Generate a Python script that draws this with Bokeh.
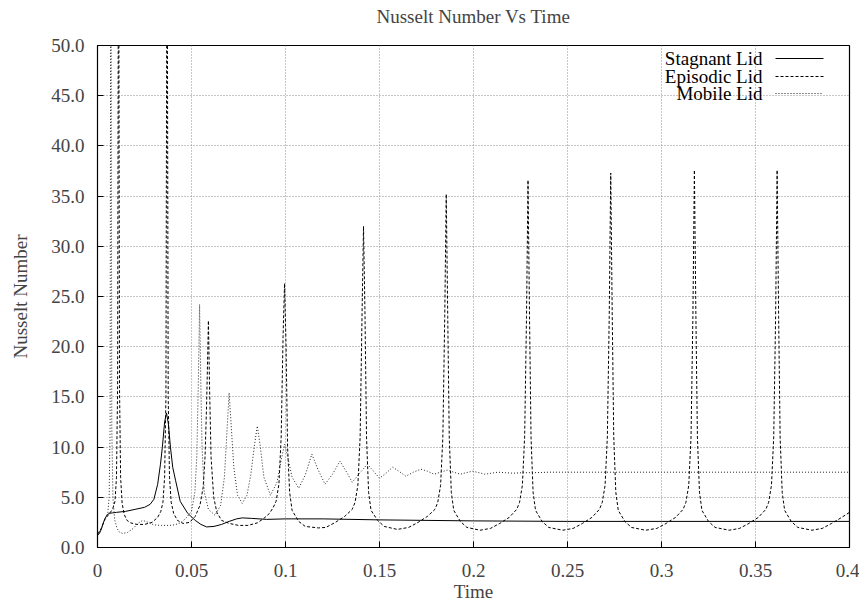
from bokeh.plotting import figure
from bokeh.models import Range1d, FixedTicker, CustomJSTickFormatter, Label, Arrow, Title
from bokeh.embed import file_html
from bokeh.resources import INLINE

# ---------------- data ----------------
chart_title = "Nusselt Number Vs Time"
x_ticks = [0.0, 0.05, 0.1, 0.15, 0.2, 0.25, 0.3, 0.35, 0.4]
y_ticks = [0, 5, 10, 15, 20, 25, 30, 35, 40, 45, 50]

series_names = ["Stagnant Lid", "Episodic Lid", "Mobile Lid"]

stagnant_t = [0.0, 0.001, 0.002, 0.003, 0.004, 0.005, 0.006, 0.008, 0.010, 0.015, 0.020, 0.025,
              0.028, 0.030, 0.032, 0.0335, 0.0345, 0.0357, 0.0367, 0.0377, 0.0388, 0.040, 0.0415,
              0.044, 0.048, 0.052, 0.055, 0.058, 0.062, 0.066, 0.070, 0.074, 0.077, 0.082, 0.09,
              0.1, 0.12, 0.15, 0.2, 0.25, 0.3, 0.35, 0.4]
stagnant_nu = [1.2, 1.4, 1.8, 2.4, 2.9, 3.2, 3.4, 3.45, 3.5, 3.6, 3.8, 4.0,
               4.3, 4.8, 6.3, 8.3, 10.0, 12.5, 13.4, 12.3, 10.0, 8.0, 6.7,
               4.6, 3.4, 2.7, 2.3, 2.05, 2.1, 2.3, 2.6, 2.85, 2.95, 2.9, 2.8,
               2.85, 2.85, 2.75, 2.65, 2.6, 2.6, 2.6, 2.6]

episodic_t = [0.0, 0.002, 0.004, 0.006, 0.008, 0.0093, 0.0101, 0.0107, 0.0112, 0.0117, 0.0123, 0.0131,
              0.0142, 0.0157, 0.0177, 0.021, 0.025, 0.029, 0.032, 0.0337, 0.0348, 0.0357, 0.0364,
              0.037, 0.0376, 0.0383, 0.0392, 0.0405, 0.0425, 0.0455, 0.049, 0.052, 0.0545, 0.0562,
              0.0572, 0.058, 0.0586, 0.059,
              0.0596, 0.0604, 0.0618, 0.0635, 0.066, 0.070, 0.075, 0.080, 0.085, 0.0885, 0.0915,
              0.0935, 0.095, 0.0965, 0.0977, 0.0987, 0.0995,
              0.1003, 0.1011, 0.1022, 0.1035, 0.107, 0.1105, 0.1175, 0.1215, 0.1265, 0.1315, 0.1355,
              0.137, 0.1385, 0.1397, 0.1407, 0.1415,
              0.1423, 0.1431, 0.1442, 0.1455, 0.149, 0.1525, 0.1595, 0.1655, 0.1705, 0.1755, 0.1795,
              0.181, 0.1825, 0.1837, 0.1847, 0.1855,
              0.1863, 0.1871, 0.1882, 0.1895, 0.193, 0.1965, 0.2035, 0.209, 0.214, 0.219, 0.223,
              0.2245, 0.226, 0.2272, 0.2282, 0.229,
              0.2298, 0.2306, 0.2317, 0.233, 0.2365, 0.24, 0.2475, 0.253, 0.258, 0.263, 0.267,
              0.2685, 0.27, 0.2712, 0.2722, 0.273,
              0.2738, 0.2746, 0.2757, 0.277, 0.2805, 0.284, 0.2915, 0.2975, 0.3025, 0.3075, 0.3115,
              0.313, 0.3145, 0.3157, 0.3167, 0.3175,
              0.3183, 0.3191, 0.3202, 0.3215, 0.325, 0.3285, 0.336, 0.3415, 0.3465, 0.3515, 0.3555,
              0.357, 0.3585, 0.3597, 0.3607, 0.3615,
              0.3623, 0.3631, 0.3642, 0.3655, 0.369, 0.3725, 0.38, 0.3855, 0.3905, 0.395, 0.4]
episodic_nu = [1.3, 1.9, 2.8, 3.3, 3.8, 4.6, 7.0, 16.0, 70.0, 16.0, 7.0, 4.4,
               3.3, 2.7, 2.45, 2.3, 2.3, 2.5, 3.0, 3.6, 4.5, 7.0, 15.0,
               70.0, 15.0, 7.0, 4.5, 3.4, 2.7, 2.4, 2.5, 3.1, 4.2, 6.0,
               9.0, 14.0, 19.0, 22.6,
               16.0, 9.0, 5.0, 3.5, 2.7, 2.4, 2.2, 2.2, 2.45, 2.9, 3.4,
               4.0, 4.6, 6.3, 11.0, 21.0, 26.3,
               20.0, 10.0, 5.5, 3.7, 2.6, 2.1, 1.95, 2.0, 2.5, 3.1, 3.8,
               4.5, 6.2, 11.0, 23.0, 32.0,
               23.0, 11.0, 5.5, 3.7, 2.7, 2.1, 1.8, 2.0, 2.5, 3.1, 3.8,
               4.5, 6.2, 11.0, 23.0, 35.2,
               23.0, 11.0, 5.5, 3.7, 2.6, 2.0, 1.72, 1.9, 2.4, 3.0, 3.8,
               4.5, 6.2, 11.0, 23.0, 36.6,
               23.0, 11.0, 5.5, 3.7, 2.6, 2.0, 1.72, 1.9, 2.4, 3.0, 3.8,
               4.5, 6.2, 11.0, 23.0, 37.3,
               23.0, 11.0, 5.5, 3.7, 2.6, 2.0, 1.72, 1.9, 2.4, 3.0, 3.8,
               4.5, 6.2, 11.0, 23.0, 37.6,
               23.0, 11.0, 5.5, 3.7, 2.6, 2.0, 1.72, 1.9, 2.4, 3.0, 3.8,
               4.5, 6.2, 11.0, 23.0, 37.6,
               23.0, 11.0, 5.5, 3.7, 2.6, 2.0, 1.72, 1.9, 2.4, 2.9, 3.5]

mobile_t = [0.0, 0.002, 0.004, 0.0055, 0.0062, 0.0067, 0.0071, 0.0076, 0.0082, 0.0091, 0.0104, 0.0118,
            0.0135, 0.016, 0.019, 0.0215, 0.024, 0.027, 0.030, 0.034, 0.038, 0.041, 0.044, 0.047,
            0.050, 0.0518, 0.0528, 0.0536, 0.0543, 0.0549, 0.0556, 0.0568, 0.059, 0.0625, 0.0655,
            0.0675, 0.069, 0.070, 0.071, 0.0725, 0.0745, 0.077, 0.0795, 0.0815, 0.0835, 0.085,
            0.0865, 0.0885, 0.092, 0.0955, 0.0978, 0.0995, 0.1012, 0.1035, 0.107, 0.1105, 0.114,
            0.1172, 0.121, 0.125, 0.129, 0.1322, 0.1355, 0.1395, 0.1435, 0.1468, 0.150, 0.1535,
            0.157, 0.1603, 0.164, 0.168, 0.172, 0.1755, 0.179, 0.1825, 0.186, 0.1895, 0.193,
            0.196, 0.1995, 0.203, 0.206, 0.2095, 0.213, 0.217, 0.221, 0.226, 0.232, 0.24, 0.26,
            0.3, 0.35, 0.4]
mobile_nu = [1.3, 1.9, 2.8, 3.5, 5.0, 12.0, 70.0, 12.0, 5.0, 2.8, 1.9, 1.5,
             1.4, 1.5, 1.9, 2.4, 2.7, 2.5, 2.25, 2.2, 2.2, 2.25, 2.45, 2.9,
             3.6, 5.5, 9.0, 16.0, 24.2, 17.0, 10.0, 5.5, 3.8, 3.2, 4.2,
             7.0, 12.0, 15.4, 12.5, 8.0, 5.2, 4.4, 5.2, 7.2, 10.2, 12.1,
             10.2, 7.0, 5.2, 6.5, 8.8, 10.3, 9.0, 7.0, 5.9, 7.2, 9.3,
             7.8, 6.3, 7.3, 8.6, 7.6, 6.5, 7.4, 8.3, 7.6, 6.9, 7.4,
             8.0, 7.6, 7.1, 7.5, 7.8, 7.6, 7.3, 7.5, 7.7, 7.5, 7.3,
             7.45, 7.6, 7.45, 7.3, 7.4, 7.5, 7.45, 7.4, 7.45, 7.45, 7.5, 7.5,
             7.5, 7.5, 7.5]

# ---------------- styles ----------------
FONT = "Liberation Serif"
FS = "19px"
styles = [dict(color="black", width=1.0, dash="solid"),
          dict(color="black", width=1.0, dash="3 2"),
          dict(color="#222222", width=1.0, dash="1 2")]

p = figure(frame_width=752, frame_height=502,
           min_border_left=97, min_border_right=10, min_border_top=45, min_border_bottom=62,
           x_range=Range1d(0, 0.4), y_range=Range1d(0, 50),
           title=chart_title, x_axis_label="Time", y_axis_label="Nusselt Number",
           output_backend="svg", toolbar_location=None)

p.title.align = "center"
p.title.vertical_align = "top"
p.title.text_font = FONT
p.title.text_font_size = FS
p.title.text_font_style = "normal"
p.title.standoff = 6

# empty spacer panel between the title and the plot area (keeps the title near the top edge)
p.add_layout(Title(text=" ", text_font_size="11px", standoff=0), "above")

p.outline_line_color = "black"
p.outline_line_width = 1.2
p.outline_line_alpha = 1.0

p.xaxis.ticker = FixedTicker(ticks=x_ticks)
p.yaxis.ticker = FixedTicker(ticks=y_ticks)
p.xaxis.formatter = CustomJSTickFormatter(code="return parseFloat(tick.toFixed(4)).toString();")
p.yaxis.formatter = CustomJSTickFormatter(code="return tick.toFixed(1);")

for ax in (p.xaxis, p.yaxis):
    ax.axis_label_text_font = FONT
    ax.axis_label_text_font_size = FS
    ax.axis_label_text_font_style = "normal"
    ax.major_label_text_font = FONT
    ax.major_label_text_font_size = FS
    ax.major_tick_in = 6
    ax.major_tick_out = 0
    ax.minor_tick_line_color = None
    ax.axis_line_color = "black"
    ax.major_tick_line_color = "black"

p.xaxis.major_label_standoff = 16
p.xaxis.axis_label_standoff = 1
p.yaxis.major_label_standoff = 13
p.yaxis.axis_label_standoff = 17

for g in (p.xgrid, p.ygrid):
    g.grid_line_color = "#8f8f8f"
    g.grid_line_dash = "1 2"
    g.grid_line_width = 1

data = [(stagnant_t, stagnant_nu), (episodic_t, episodic_nu), (mobile_t, mobile_nu)]
for (t, nu), st in zip(data, styles):
    p.line(t, nu, line_color=st["color"], line_width=st["width"], line_dash=st["dash"])

# legend in gnuplot style: right-aligned text, line sample to its right
row_y = [489, 471, 454]
for name, st, yy in zip(series_names, styles, row_y):
    p.add_layout(Label(x=665, y=yy, x_units="screen", y_units="screen", text=name,
                       text_align="right", text_baseline="middle",
                       text_font=FONT, text_font_size=FS, text_color="black"))
    p.add_layout(Arrow(x_start=678, y_start=yy, x_end=726, y_end=yy,
                       start_units="screen", end_units="screen", end=None,
                       line_color=st["color"], line_width=st["width"], line_dash=st["dash"]))

open("out.html", "w").write(file_html(p, INLINE))
